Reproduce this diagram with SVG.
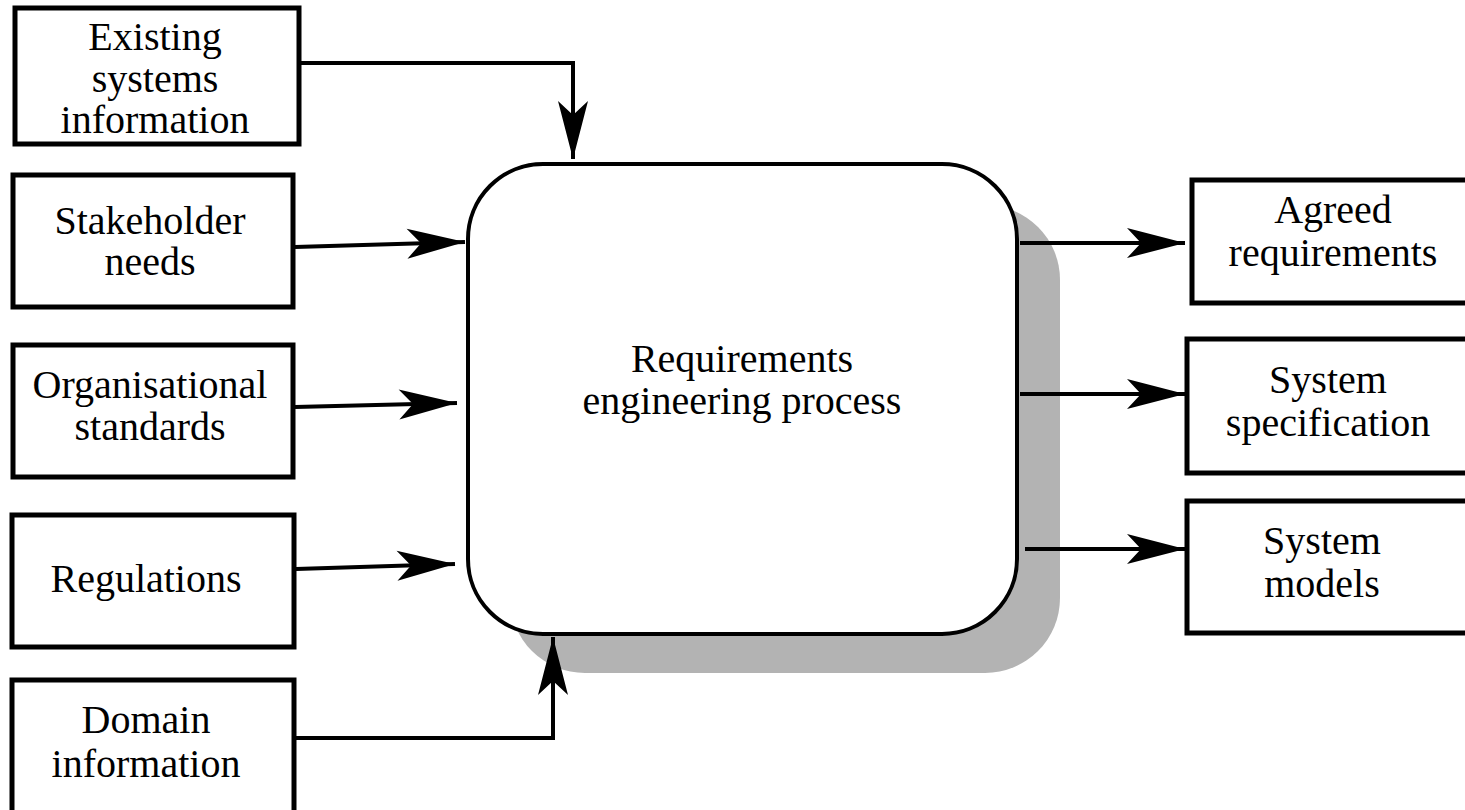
<svg xmlns="http://www.w3.org/2000/svg" width="1465" height="810" viewBox="0 0 1465 810">
<style>
.box{fill:#fff;stroke:#000;stroke-width:5}
.t{font-family:"Liberation Serif","Times New Roman",serif;font-size:40px;fill:#000;text-anchor:middle}
.c{fill:none;stroke:#000;stroke-width:4;marker-end:url(#ah)}
</style>
<defs>
<marker id="ah" viewBox="-60 -17 62 34" refX="0" refY="0" markerWidth="62" markerHeight="34" markerUnits="userSpaceOnUse" orient="auto">
<path d="M0,0 L-58,-15 L-44,0 L-58,15 Z" fill="#000"/>
</marker>
</defs>
<rect width="1465" height="810" fill="#fff"/>
<g id="process">
<rect x="510" y="205" width="550" height="468" rx="75" ry="75" fill="#b3b3b3"/>
<rect x="468" y="164" width="549" height="470" rx="75" ry="75" fill="#fff" stroke="#000" stroke-width="4"/>
<text class="t" x="742" y="372">Requirements</text>
<text class="t" x="742" y="414">engineering process</text>
</g>
<g id="existing">
<rect class="box" x="15" y="8" width="284" height="136"/>
<text class="t" x="155" y="50">Existing</text>
<text class="t" x="155" y="92">systems</text>
<text class="t" x="155" y="133">information</text>
</g>
<g id="stakeholder">
<rect class="box" x="13" y="175" width="280" height="132"/>
<text class="t" x="150" y="234">Stakeholder</text>
<text class="t" x="150" y="275">needs</text>
</g>
<g id="organisational">
<rect class="box" x="13" y="345" width="280" height="132"/>
<text class="t" x="150" y="398">Organisational</text>
<text class="t" x="150" y="440">standards</text>
</g>
<g id="regulations">
<rect class="box" x="12" y="515" width="282" height="132"/>
<text class="t" x="146" y="592">Regulations</text>
</g>
<g id="domain">
<rect class="box" x="12" y="680" width="282" height="140"/>
<text class="t" x="146" y="733">Domain</text>
<text class="t" x="146" y="777">information</text>
</g>
<g id="agreed">
<rect class="box" x="1192" y="180" width="290" height="123"/>
<text class="t" x="1333" y="223">Agreed</text>
<text class="t" x="1333" y="266">requirements</text>
</g>
<g id="spec">
<rect class="box" x="1187" y="339" width="295" height="134"/>
<text class="t" x="1328" y="393">System</text>
<text class="t" x="1328" y="436">specification</text>
</g>
<g id="models">
<rect class="box" x="1187" y="501" width="295" height="132"/>
<text class="t" x="1322" y="554">System</text>
<text class="t" x="1322" y="597">models</text>
</g>
<g id="connectors">
<path class="c" d="M299,63 H573 V159"/>
<path class="c" d="M295,247 L465,242"/>
<path class="c" d="M295,407 L457,403"/>
<path class="c" d="M296,569 L455,564"/>
<path class="c" d="M296,738 H553 V637"/>
<path class="c" d="M1020,243 H1185"/>
<path class="c" d="M1020,394 H1185"/>
<path class="c" d="M1025,549 H1185"/>
</g>
</svg>
